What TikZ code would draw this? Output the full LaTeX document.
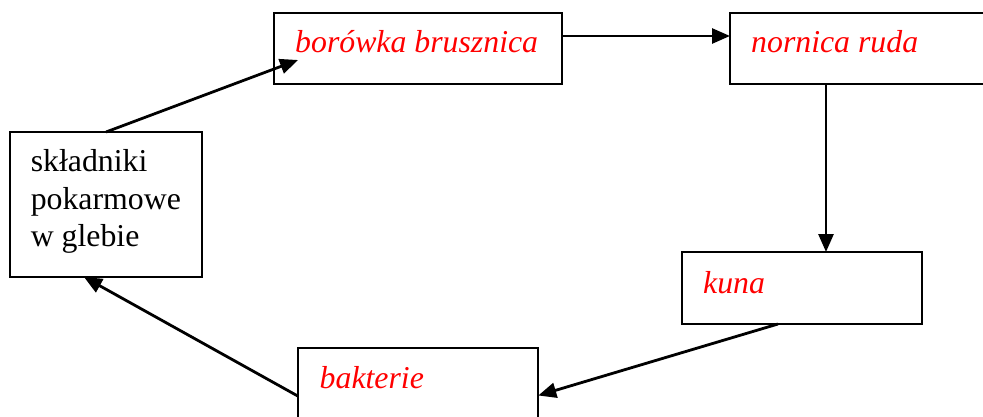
\documentclass[tikz,border=0pt]{standalone}
\usepackage{fontspec}
\setmainfont{Liberation Serif}
\usetikzlibrary{arrows.meta,calc}
\definecolor{lblred}{RGB}{255,0,0}
\tikzset{
  box/.style={draw=black, line width=2pt, rectangle, inner sep=0pt, outer sep=0pt},
  arr/.style={draw=black, line width=2.8pt, -{Triangle[length=18pt,width=15pt]}},
  lbl/.style={inner sep=0pt, anchor=base west, font=\fontsize{31.8}{37.5}\selectfont},
  redlbl/.style={lbl, text=lblred, font=\fontsize{31.8}{37.5}\selectfont\itshape}
}
\begin{document}
\begin{tikzpicture}[x=1pt,y=-1pt]
\useasboundingbox (0,0) rectangle (983,417);
\clip (0,0) rectangle (983,417);
\fill[white] (0,0) rectangle (983,417);
% boxes
\node[box, minimum width=288pt, minimum height=71pt] (bor) at (418,48.5) {};
\node[box, minimum width=260pt, minimum height=71.5pt] (nor) at (860,48.5) {};
\node[box, minimum width=192.5pt, minimum height=145pt] (skl) at (106,204.5) {};
\node[box, minimum width=240pt, minimum height=72pt] (kun) at (802,288) {};
\node[box, minimum width=240.5pt, minimum height=72pt] (bak) at (418,384) {};
% texts
\node[redlbl] (tbor) at (295,53) {borówka brusznica};
\node[redlbl] (tnor) at (751,53) {nornica ruda};
\node[redlbl] (tkun) at (703,293) {kuna};
\node[redlbl] (tbak) at (319.5,388) {bakterie};
\node[lbl] (tskl1) at (30.6,171.7) {składniki};
\node[lbl] (tskl2) at (30.6,209.2) {pokarmowe};
\node[lbl] (tskl3) at (30.6,246.7) {w glebie};
% connectors
\coordinate (borin) at (298,60);
\coordinate (nk) at (826,0);
\draw[arr] (skl.north) -- (borin);
\draw[arr] ([yshift=12.5pt]bor.east) -- ([yshift=12.5pt]nor.west);
\draw[arr] (nor.south -| nk) -- (kun.north -| nk);
\draw[arr] ([xshift=-24pt]kun.south) -- ([yshift=-11.5pt]bak.east);
\draw[arr] ([yshift=-12pt]bak.west) -- ([xshift=-22pt]skl.south);
\end{tikzpicture}
\end{document}
